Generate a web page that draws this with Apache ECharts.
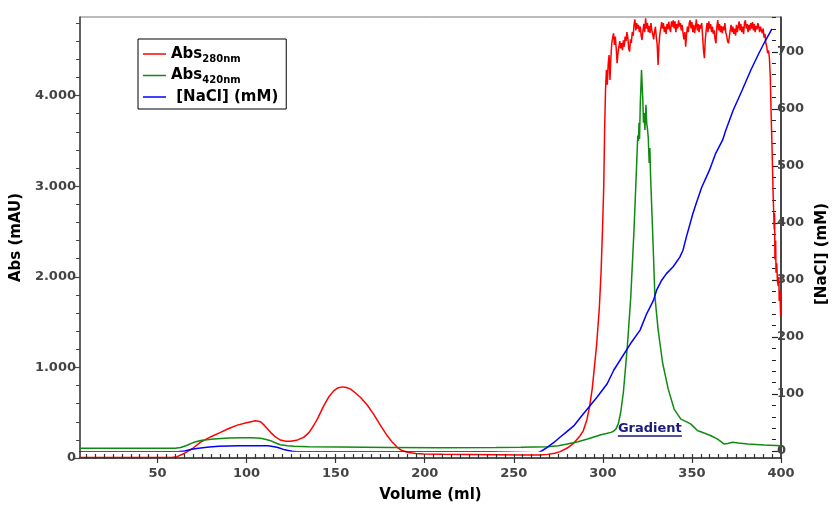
<!DOCTYPE html>
<html><head><meta charset="utf-8">
<script src="https://cdn.jsdelivr.net/npm/echarts@6/dist/echarts.min.js"></script>
<style>html,body{margin:0;padding:0;background:#fff}#c{width:838px;height:508px}</style>
</head><body><div id="c"></div>
<script>
// ---- data ----
const redVol = [6,58,61,65,70,74,80,85.4,90,94.8,100,105,107.9,110,113.5,116,119,122,124.7,128,132,135,137.6,140,143.3,146,148.9,151,153.8,156,158.4,161,164,167.5,171.3,175,179,182,184.6,187,190.3,195,199.4,210,225,240,255,265,269,273,276,280,283.7,287,289,291,292.5,294,295,296.5,298,299,299.8,300.5,
301,301.5,302,302.5,303,303.5,304,304.5,305,305.5,
306,306.5,307,307.5,308,308.5,309,309.5,310,310.5,
311,311.5,312,312.5,313,313.5,314,314.5,315,315.5,
316,316.5,317,317.5,318,318.5,319,319.5,320,320.5,
321,321.5,322,322.5,323,323.5,324,324.5,325,325.5,
326,326.5,327,327.5,328,328.5,329,329.5,330,330.5,
331,331.5,332,332.5,333,333.5,334,334.5,335,335.5,
336,336.5,337,337.5,338,338.5,339,339.5,340,340.5,
341,341.5,342,342.5,343,343.5,344,344.5,345,345.5,
346,346.5,347,347.5,348,348.5,349,349.5,350,350.5,
351,351.5,352,352.5,353,353.5,354,354.5,355,355.5,
356,356.5,357,357.5,358,358.5,359,359.5,360,360.5,
361,361.5,362,362.5,363,363.5,364,364.5,365,365.5,
366,366.5,367,367.5,368,368.5,369,369.5,370,370.5,
371,371.5,372,372.5,373,373.5,374,374.5,375,375.5,
376,376.5,377,377.5,378,378.5,379,379.5,380,380.5,
381,381.5,382,382.5,383,383.5,384,384.5,385,385.5,
386,386.5,387,387.5,388,388.5,389,389.5,390,390.5,
391,391.5,392,392.5,393,393.5,394,
394.4,395,395.6,396.2,396.4,396.6,397,397.2,397.6,398,398.5,398.8,399,399.4,399.8];
const redAbs = [5,5,15,50,110,173,235,283,325,363,390,411,400,360,283,235,198,186,184,195,228,280,356,440,576,670,741,772,785,778,760,720,668,590,484,365,245,170,118,85,63,50,44,42,40,37,33,33,40,52,70,110,165,240,300,420,560,760,950,1250,1650,2050,2521,3000,
3622,4063,4283,4120,4350,4448,4173,4420,4577,4640,
4687,4560,4650,4520,4357,4470,4540,4600,4520,4580,
4500,4610,4540,4650,4600,4700,4640,4520,4485,4620,
4580,4700,4660,4780,4840,4720,4800,4740,4780,4700,
4760,4660,4613,4720,4790,4700,4852,4740,4800,4700,
4770,4690,4800,4720,4680,4620,4700,4760,4650,4560,
4338,4560,4680,4740,4810,4740,4800,4700,4760,4680,
4790,4730,4815,4740,4700,4820,4760,4830,4740,4820,
4700,4790,4740,4830,4760,4800,4720,4780,4690,4620,
4700,4540,4680,4760,4700,4800,4830,4740,4810,4700,
4780,4690,4760,4840,4720,4790,4700,4780,4740,4800,
4650,4500,4412,4620,4720,4800,4700,4820,4740,4790,
4700,4760,4680,4720,4620,4577,4760,4833,4720,4790,
4700,4770,4690,4760,4720,4800,4700,4660,4600,4577,
4650,4720,4780,4700,4760,4680,4740,4660,4780,4700,
4760,4820,4720,4790,4700,4760,4680,4800,4830,4740,
4790,4700,4780,4720,4800,4740,4810,4720,4790,4700,
4770,4730,4800,4760,4700,4760,4720,4687,4740,4640,
4680,4577,4540,4467,4500,4412,4200,
3842,3400,2900,2521,2700,2191,2400,2044,2150,1950,1897,2000,1732,1850,1566];

const greenVol = [6,60,63,66,70.4,75,81.6,90,96.6,103,107.9,111,113.5,116,119,123,126.6,135,152.8,180,209,240,254,269,275,280,286,291.4,295,298.9,302,304.5,306,307.3,308.7,310,311.5,312.9,314,315.7,317.5,319,319.6,320,320.3,320.6,321,321.7,322.1,322.5,322.8,323.2,323.6,324.2,324.6,325.1,325.5,326,326.4,326.8,327.9,329.2,331,333.5,336.7,340,343.8,347.6,349.4,351.3,353.2,355,360.7,364.4,368.2,370,372.8,376,381.3,390.6,400];
const greenAbs = [107,107,115,135,173,195,209,220,224,223,217,205,191,168,147,135,129,124,121,117,113,115,118,124,135,154,180,209,232,257,270,283,295,319,380,502,720,1036,1300,1787,2521,3255,3560,3500,3700,3520,3900,4283,4100,3916,3700,3806,3620,3898,3700,3622,3530,3255,3420,3100,2521,1787,1420,1054,760,540,429,393,374,338,301,290,246,209,154,160,173,165,154,143,136];

const blueVol = [6,62,66,70,74,80,85.4,96.6,113.5,117,119,123,127,130,200,240,241,267,269,272,276,279.6,282,287.6,291.4,300.7,306.3,310,319.5,325,328.8,332.6,334.4,337,340,343.8,347.6,349.4,351.3,355,356.9,360,364.4,368,371.9,373.8,378,383.1,388,392.5,396,400];
const blueNaCl = [-1.5,-1.5,0,3,5,7,8.2,9.4,9.4,7.5,6,2,-0.5,-1.5,-1.5,-1.5,-3,-3,0,6,15,24.6,30.5,45,60,95,118,141.6,188,212,241,264,282,298,311,323,340,352,375,416,434,462,492,522,545,563,598,633,668,697,718,740];

const xLabelVals = [50,100,150,200,250,300,350,400];
const xMinorVals = [10,15,20,25,30,35,40,45,50,55,60,65,70,75,80,85,90,95,100,105,110,115,120,125,130,135,140,145,150,155,160,165,170,175,180,185,190,195,200,205,210,215,220,225,230,235,240,245,250,255,260,265,270,275,280,285,290,295,300,305,310,315,320,325,330,335,340,345,350,355,360,365,370,375,380,385,390,395];
const yLeftLabels = [0,1000,2000,3000,4000];
const yLeftMinor = [200,400,600,800,1200,1400,1600,1800,2200,2400,2600,2800,3200,3400,3600,3800,4200,4400,4600,4800];
const yRightLabels = [0,100,200,300,400,500,600,700];
const yRightMinor = [20,40,60,80,120,140,160,180,220,240,260,280,320,340,360,380,420,440,460,480,520,540,560,580,620,640,660,680,720,740,760];

const seriesNames = ['Abs280','Abs420','NaCl'];
const legendMain = ['Abs','Abs',' [NaCl] (mM)'];
const legendSub = ['280nm','420nm',''];
const annotationText = 'Gradient';

// ---- chart ----
const zip = (a,b) => a.map((v,i)=>[v,b[i]]);
const FONT = 'DejaVu Sans';
const tickLbl = {color:'#444', fontFamily:FONT, fontWeight:'bold', fontSize:13};
const XMIN = 6.5, XMAX = 400, YLMAX = 4867, YRMAX = 761;

const chart = echarts.init(document.getElementById('c'), null, {renderer:'canvas'});
const option = {
  animation:false,
  backgroundColor:'#fff',
  grid:[
    {left:80, right:57, top:17, bottom:49, show:true, borderColor:'#777', borderWidth:1, backgroundColor:'transparent'},
    {left:80, right:57, top:17, bottom:57, show:false},
    {left:80, right:57, top:17, bottom:49, show:false, z:10}
  ],
  xAxis:[
    {type:'value', gridIndex:0, position:'bottom', min:XMIN, max:XMAX, z:10,
     name:'Volume (ml)', nameLocation:'middle', nameGap:30,
     nameTextStyle:{fontFamily:FONT, fontWeight:'bold', fontSize:15, color:'#000'},
     axisLine:{lineStyle:{color:'#333', width:1.5}},
     axisTick:{show:true, customValues:xLabelVals, length:5, lineStyle:{color:'#333', width:1.2}},
     axisLabel:{customValues:xLabelVals, margin:9, ...tickLbl},
     splitLine:{show:false}},
    {type:'value', gridIndex:1, min:XMIN, max:XMAX, show:false},
    {type:'value', gridIndex:2, position:'bottom', min:XMIN, max:XMAX, z:10,
     axisLine:{show:false, onZero:false},
     axisTick:{show:true, customValues:xMinorVals, inside:true, length:5, lineStyle:{color:'#333', width:1.2}},
     axisLabel:{show:false}, splitLine:{show:false}}
  ],
  yAxis:[
    {type:'value', gridIndex:0, position:'left', min:0, max:YLMAX,
     name:'Abs (mAU)', nameLocation:'middle', nameGap:50, nameRotate:90,
     nameTextStyle:{fontFamily:FONT, fontWeight:'bold', fontSize:15, color:'#000'},
     axisLine:{show:true, lineStyle:{color:'#444', width:1.5}},
     axisTick:{show:true, customValues:yLeftLabels, length:6, lineStyle:{color:'#444', width:1.2}},
     axisLabel:{customValues:yLeftLabels, margin:4, ...tickLbl,
       formatter:v => v===0 ? '0' : (v/1000).toFixed(3)},
     splitLine:{show:false}},
    {type:'value', gridIndex:0, position:'left', min:0, max:YLMAX,
     axisLine:{show:false},
     axisTick:{show:true, customValues:yLeftMinor, length:4, lineStyle:{color:'#444', width:1}},
     axisLabel:{show:false}, splitLine:{show:false}},
    {type:'value', gridIndex:0, position:'right', min:0, max:YLMAX,
     axisLine:{show:true, lineStyle:{color:'#222', width:1.5}},
     axisTick:{show:false}, axisLabel:{show:false}, splitLine:{show:false}},
    {type:'value', gridIndex:1, position:'right', min:0, max:YRMAX,
     name:'[NaCl] (mM)', nameLocation:'middle', nameGap:42, nameRotate:90,
     nameTextStyle:{fontFamily:FONT, fontWeight:'bold', fontSize:15, color:'#000', padding:[0,40,0,0]},
     axisLine:{show:false},
     axisTick:{show:true, customValues:yRightLabels, length:6, lineStyle:{color:'#222', width:1.2}},
     axisLabel:{customValues:yRightLabels, margin:5, ...tickLbl},
     splitLine:{show:false}},
    {type:'value', gridIndex:1, position:'right', min:0, max:YRMAX,
     axisLine:{show:false},
     axisTick:{show:true, customValues:yRightMinor, length:4, lineStyle:{color:'#222', width:1}},
     axisLabel:{show:false}, splitLine:{show:false}},
    {type:'value', gridIndex:2, min:0, max:YLMAX, show:false}
  ],
  legend:{
    orient:'vertical', left:138, top:39, backgroundColor:'#fff',
    borderColor:'#000', borderWidth:1, borderRadius:0,
    padding:[5,8,2,5], itemGap:1.5, itemWidth:23, itemHeight:1.5, icon:'rect',
    data:seriesNames,
    formatter:name => {
      const i = seriesNames.indexOf(name);
      return legendSub[i] ? `{a|${legendMain[i]}}{s|${legendSub[i]}}` : `{a|${legendMain[i]}}`;
    },
    textStyle:{
      rich:{
        a:{fontFamily:FONT, fontWeight:'bold', fontSize:15, color:'#000', lineHeight:20, height:20},
        s:{fontFamily:FONT, fontWeight:'bold', fontSize:10, color:'#000', lineHeight:15, verticalAlign:'bottom'}
      }
    }
  },
  series:[
    {name:seriesNames[0], type:'line', xAxisIndex:0, yAxisIndex:0, data:zip(redVol,redAbs),
     showSymbol:false, symbol:'none', lineStyle:{color:'#ff0000', width:1.5}, itemStyle:{color:'#ff0000'}, z:3},
    {name:seriesNames[1], type:'line', xAxisIndex:0, yAxisIndex:0, data:zip(greenVol,greenAbs),
     showSymbol:false, symbol:'none', lineStyle:{color:'#118a11', width:1.5}, itemStyle:{color:'#118a11'}, z:3},
    {name:seriesNames[2], type:'line', xAxisIndex:1, yAxisIndex:3, data:zip(blueVol,blueNaCl),
     showSymbol:false, symbol:'none', lineStyle:{color:'#0000ff', width:1.5}, itemStyle:{color:'#0000ff'}, z:3}
  ]
};
chart.setOption(option);

// "Gradient" annotation anchored in data space
const pT = chart.convertToPixel({xAxisIndex:0, yAxisIndex:0}, [326.4, 319]);
const pL = chart.convertToPixel({xAxisIndex:0, yAxisIndex:0}, [308.4, 242]);
const pR = chart.convertToPixel({xAxisIndex:0, yAxisIndex:0}, [344.4, 242]);
chart.setOption({graphic:[
  {type:'text', x:pT[0], y:pT[1], z:10,
   style:{text:annotationText, fill:'#1a1a80', font:'bold 13px "DejaVu Sans"', textAlign:'center', textVerticalAlign:'middle'}},
  {type:'line', z:10, shape:{x1:pL[0], y1:pL[1], x2:pR[0], y2:pR[1]}, style:{stroke:'#1a1a80', lineWidth:1.5}}
]});
</script></body></html>
